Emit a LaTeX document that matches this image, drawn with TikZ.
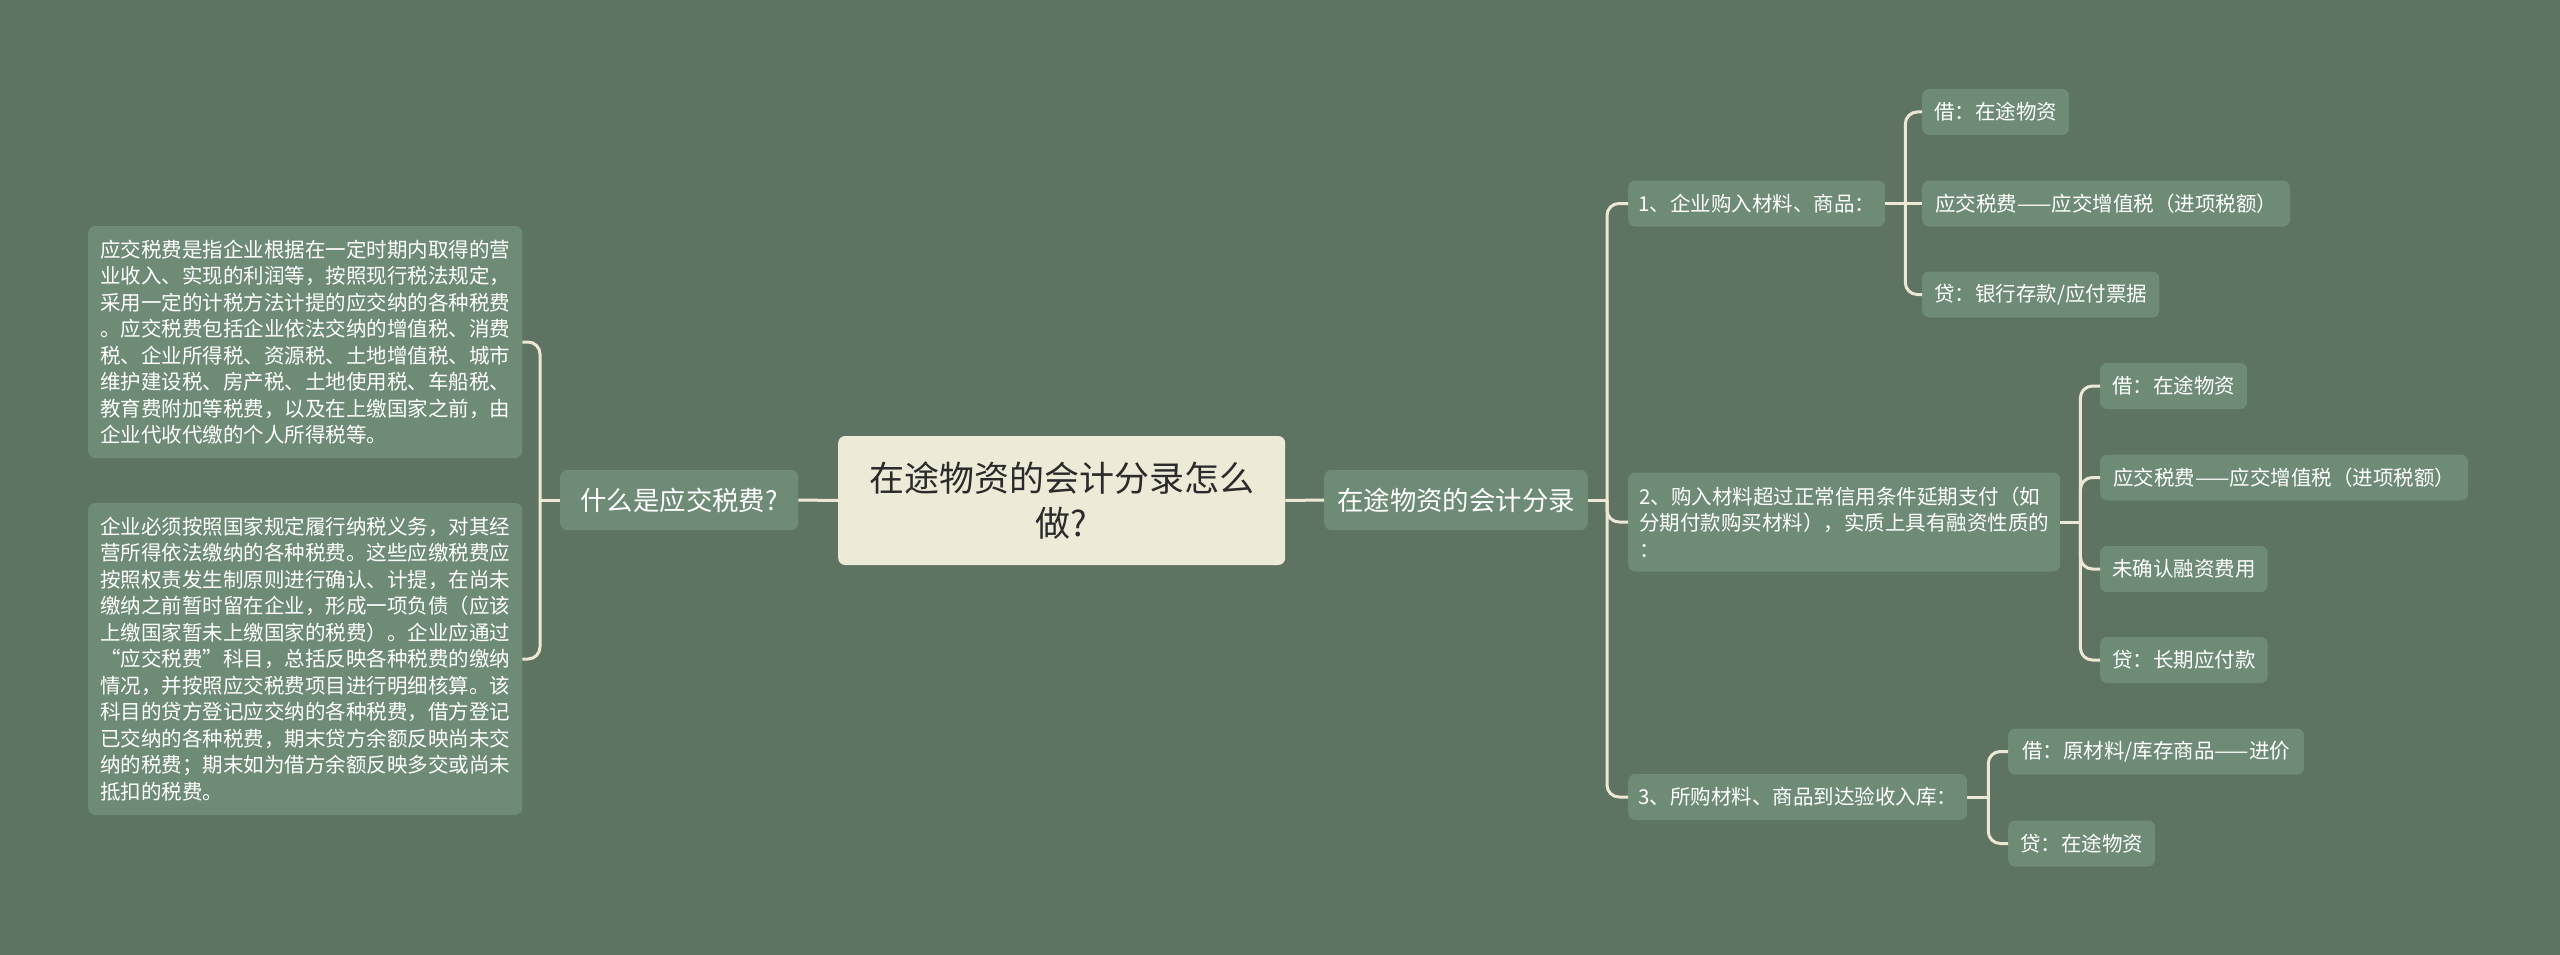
\documentclass[tikz,border=0pt]{standalone}
\usepackage{fontspec}
\setmainfont{Noto Sans CJK SC}
\usetikzlibrary{calc}
\definecolor{bgc}{HTML}{5F7362}
\definecolor{nodec}{HTML}{6E8B75}
\definecolor{rootc}{HTML}{EEEAD8}
\definecolor{linec}{HTML}{EDE8D4}
\definecolor{roottext}{HTML}{2B2B2B}
\begin{document}
\begin{tikzpicture}[x=1pt,y=-1pt,
  box/.style={fill=nodec, rounded corners=7pt, text=white, inner xsep=12pt, inner ysep=0pt, anchor=west, align=left},
  sm/.style={box, minimum height=46pt, font=\fontsize{20.5pt}{26.5pt}\selectfont},
  md/.style={box, minimum height=60pt, inner xsep=13pt, font=\fontsize{26.4pt}{32pt}\selectfont},
  rootbox/.style={fill=rootc, rounded corners=7pt, text=roottext, anchor=west, align=center, minimum width=447pt, minimum height=129pt, inner sep=0pt, font=\fontsize{35pt}{45pt}\selectfont},
  conn/.style={draw=linec, line width=3pt},
  elbow/.style={conn, rounded corners=12pt}]
\useasboundingbox (0,0) rectangle (2560,955);
\fill[bgc] (0,0) rectangle (2560,955);

% nodes
\node[rootbox] (R) at (838,500.5) {在途物资的会计分录怎么\\做?};
\node[md, minimum width=238pt] (Q) at (560,500) {什么是应交税费?};
\node[md] (M) at (1324,500) {在途物资的会计分录};

\node[sm, minimum height=232pt] (L1) at (88,342) {应交税费是指企业根据在一定时期内取得的营\\业收入、实现的利润等，按照现行税法规定，\\采用一定的计税方法计提的应交纳的各种税费\\。应交税费包括企业依法交纳的增值税、消费\\税、企业所得税、资源税、土地增值税、城市\\维护建设税、房产税、土地使用税、车船税、\\教育费附加等税费，以及在上缴国家之前，由\\企业代收代缴的个人所得税等。};
\node[sm, minimum height=312pt] (L2) at (88,659) {企业必须按照国家规定履行纳税义务，对其经\\营所得依法缴纳的各种税费。这些应缴税费应\\按照权责发生制原则进行确认、计提，在尚未\\缴纳之前暂时留在企业，形成一项负债（应该\\上缴国家暂未上缴国家的税费）。企业应通过\\“应交税费”科目，总括反映各种税费的缴纳\\情况，并按照应交税费项目进行明细核算。该\\科目的贷方登记应交纳的各种税费，借方登记\\已交纳的各种税费，期末贷方余额反映尚未交\\纳的税费；期末如为借方余额反映多交或尚未\\抵扣的税费。};

\node[sm, inner xsep=10pt] (A) at (1628,203.5) {1、企业购入材料、商品：};
\node[sm, minimum height=99pt, inner xsep=11pt] (B) at (1628,522) {2、购入材料超过正常信用条件延期支付（如\\分期付款购买材料），实质上具有融资性质的\\：};
\node[sm, inner xsep=10pt] (C) at (1628,797) {3、所购材料、商品到达验收入库：};

\node[sm] (A1) at (1922,112) {借：在途物资};
\node[sm, inner xsep=13pt] (A2) at (1922,203.5) {应交税费——应交增值税（进项税额）};
\node[sm] (A3) at (1922,294.5) {贷：银行存款/应付票据};

\node[sm] (B1) at (2100,386) {借：在途物资};
\node[sm, inner xsep=13pt] (B2) at (2100,477.5) {应交税费——应交增值税（进项税额）};
\node[sm] (B3) at (2100,569) {未确认融资费用};
\node[sm] (B4) at (2100,660) {贷：长期应付款};

\node[sm, inner xsep=14pt] (C1) at (2008,751.5) {借：原材料/库存商品——进价};
\node[sm] (C2) at (2008,843.5) {贷：在途物资};

% trunk coordinates
\coordinate (tQ) at ([xshift=-20pt]Q.west);
\coordinate (tM) at ([xshift=19pt]M.east);
\coordinate (tA) at ([xshift=20pt]A.east);
\coordinate (tB) at ([xshift=20pt]B.east);
\coordinate (tC) at ([xshift=21pt]C.east);

% connectors
\draw[conn] (R.east) -- (M.west);
\draw[conn] (R.west) -- (Q.east);

\draw[conn] (Q.west) -- (tQ);
\draw[elbow] (tQ) |- (L1.east);
\draw[elbow] (tQ) |- (L2.east);

\draw[conn] (M.east) -- (tM);
\draw[elbow] (tM) |- (A.west);
\draw[elbow] (tM) |- (B.west);
\draw[elbow] (tM) |- (C.west);

\draw[conn] (A.east) -- (tA);
\draw[elbow] (tA) |- (A1.west);
\draw[conn] (tA) -- (A2.west);
\draw[elbow] (tA) |- (A3.west);

\draw[conn] (B.east) -- (tB);
\draw[elbow] (tB) |- (B1.west);
\draw[elbow] (tB) |- (B2.west);
\draw[elbow] (tB) |- (B3.west);
\draw[elbow] (tB) |- (B4.west);

\draw[conn] (C.east) -- (tC);
\draw[elbow] (tC) |- (C1.west);
\draw[elbow] (tC) |- (C2.west);
\end{tikzpicture}
\end{document}
